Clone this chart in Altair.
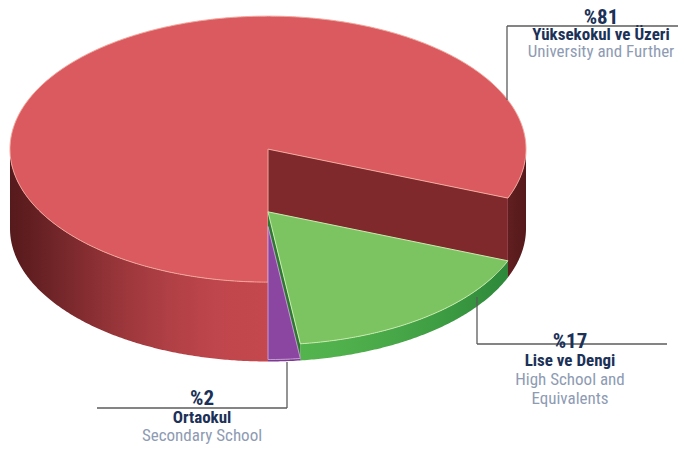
import numpy as np
import pandas as pd
import altair as alt

# ---------------- data ----------------
categories_tr = ["Yüksekokul ve Üzeri", "Lise ve Dengi", "Ortaokul"]
categories_en = ["University and Further", "High School and\nEquivalents", "Secondary School"]
values = [81, 17, 2]
pct_labels = ["%81", "%17", "%2"]

# ---------------- styles / layout ----------------
top_colors = ["#db5a5f", "#7cc462", "#8a46a0"]
top_edges = ["#f2a79c", "#c9eab0", "#c79ad4"]
side_dark = ["#571a1c", "#2a8538", "#5a2a6a"]
side_light = ["#c4484e", "#54b54e", "#7a3a8e"]
cut_colors = ["#7f292d", "#2e7a33", "#6a2f80"]
NAVY = "#1b3157"
GREY = "#8e9bb3"
LINE = "#5b5b5b"
FONT = "Liberation Sans Narrow, Roboto Condensed, DejaVu Sans Condensed, Roboto, sans-serif"

CX, CY, RX, RY = 268.0, 228.5, 258.0, 133.0   # base ellipse (px frame of the picture)
H_PER = 0.98                                   # slice height per percent
START = 90.0                                   # degrees, 6 o'clock, clockwise on screen

W, H = 670, 438
xs = alt.Scale(domain=[8, 8 + W], nice=False, zero=False)
ys = alt.Scale(domain=[8, 8 + H], nice=False, zero=False, reverse=True)


def pt(t, yoff):
    return CX + RX * np.cos(t), CY - yoff + RY * np.sin(t)


def lerp_col(c1, c2, f):
    a = [int(c1[i:i + 2], 16) for i in (1, 3, 5)]
    b = [int(c2[i:i + 2], 16) for i in (1, 3, 5)]
    return "#" + "".join(f"{int(round(a[k] + (b[k] - a[k]) * f)):02x}" for k in range(3))


def front_intervals(t0, t1):
    out = []
    for k in range(-1, 3):
        lo, hi = max(t0, k * 360.0), min(t1, k * 360.0 + 180.0)
        if hi - lo > 0.01:
            out.append((lo, hi))
    return out


layers = []


def poly_layer(points, fill, stroke=None, sw=0.0):
    df = pd.DataFrame({"x": [p[0] for p in points], "y": [p[1] for p in points],
                       "o": list(range(len(points)))})
    kw = dict(fill=fill, strokeWidth=sw, strokeJoin="round", interpolate="linear")
    kw["stroke"] = stroke if stroke else "transparent"
    return alt.Chart(df).mark_line(**kw).encode(
        x=alt.X("x:Q", scale=xs, axis=None),
        y=alt.Y("y:Q", scale=ys, axis=None),
        order=alt.Order("o:Q"),
    )


cum = START
for i, v in enumerate(values):
    t0, t1 = cum, cum + v / 100.0 * 360.0
    cum = t1
    h = v * H_PER
    # outer side (front part only)
    for (a, b) in front_intervals(t0, t1):
        ts = np.radians(np.linspace(a, b, max(3, int((b - a) * 2))))
        top = [pt(t, h) for t in ts]
        bot = [pt(t, 0) for t in ts[::-1]]
        xv = CX + RX * np.cos(ts)
        xmin, xmax = xv.min(), xv.max()
        stops = []
        for t in np.radians(np.linspace(a, b, 9)):
            off = 0.0 if xmax - xmin < 1e-6 else (CX + RX * np.cos(t) - xmin) / (xmax - xmin)
            f = max(np.sin(t), 0) ** 2.5
            stops.append((float(off), lerp_col(side_dark[i], side_light[i], f)))
        stops.sort()
        grad = {"gradient": "linear", "x1": 0, "x2": 1, "y1": 0, "y2": 0,
                "stops": [{"offset": o, "color": c} for o, c in stops]}
        layers.append(poly_layer(top + bot + [top[0]], grad))
    # radial cut faces facing the viewer
    for ang, sign in ((t0, -1), (t1, 1)):
        r = np.radians(ang)
        if sign * np.cos(r) > 0.02:
            quad = [(CX, CY - h), pt(r, h), pt(r, 0), (CX, CY), (CX, CY - h)]
            layers.append(poly_layer(quad, cut_colors[i]))
    # top face
    ts = np.radians(np.linspace(t0, t1, max(3, int((t1 - t0) * 2))))
    face = [(CX, CY - h)] + [pt(t, h) for t in ts] + [(CX, CY - h)]
    layers.append(poly_layer(face, top_colors[i], top_edges[i], 1.0))

# ---------------- leader lines ----------------
leader_x = [507, 507, 477, 477, 287, 97]
leader_y = [26, 26, 297, 344, 362, 408]
leader_x2 = [507, 678, 477, 667, 287, 287]
leader_y2 = [100, 26, 344, 344, 408, 408]
lines_df = pd.DataFrame({"x": leader_x, "y": leader_y, "x2": leader_x2, "y2": leader_y2})
layers.append(alt.Chart(lines_df).mark_rule(color=LINE, strokeWidth=1.3).encode(
    x=alt.X("x:Q", scale=xs, axis=None), y=alt.Y("y:Q", scale=ys, axis=None),
    x2="x2:Q", y2="y2:Q"))

# ---------------- labels (alphabetic baselines) ----------------
label_x = [601, 570, 202]
pct_y = [24, 348, 405]
tr_y = [40, 366, 423]
en_y = [57, 385, 441]

pct_df = pd.DataFrame({"x": label_x, "y": pct_y, "t": pct_labels})
tr_df = pd.DataFrame({"x": label_x, "y": tr_y, "t": categories_tr})
en_df = pd.DataFrame({"x": label_x, "y": en_y, "t": categories_en})


def text_layer(df, size, weight, color):
    return alt.Chart(df).mark_text(fontSize=size, fontWeight=weight, color=color, font=FONT,
                                   align="center", baseline="alphabetic", lineBreak="\n",
                                   lineHeight=19).encode(
        x=alt.X("x:Q", scale=xs, axis=None), y=alt.Y("y:Q", scale=ys, axis=None), text="t:N")


layers.append(text_layer(pct_df, 21, "bold", NAVY))
layers.append(text_layer(tr_df, 17, "bold", NAVY))
layers.append(text_layer(en_df, 17, "normal", GREY))

chart = alt.layer(*layers).properties(
    width=W, height=H, padding=0, autosize=alt.AutoSizeParams(type="none")
).configure_view(stroke=None)
chart.save("out.html", embed_options={"renderer": "svg", "actions": False})
